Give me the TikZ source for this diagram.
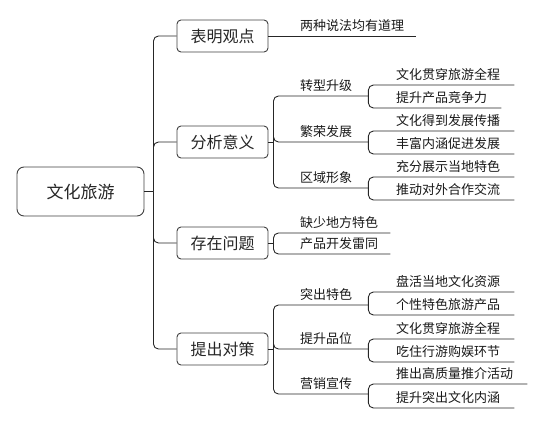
\documentclass[tikz,border=0pt]{standalone}
\usepackage{fontspec}
\setmainfont{Noto Sans CJK SC}
\usetikzlibrary{positioning}

\begin{document}
\begin{tikzpicture}[
  x=1pt, y=-1pt,
  conn/.style={draw=black!85, line width=0.9pt, rounded corners=5pt},
  rootbox/.style={draw=black!75, line width=0.9pt, rounded corners=7pt, fill=white,
                  text=black!85, minimum width=127pt, minimum height=49pt,
                  font=\fontsize{17pt}{20pt}\selectfont},
  topic/.style={draw=black!75, line width=0.9pt, rounded corners=4pt, fill=white,
                text=black!85, minimum width=91pt, minimum height=32pt,
                font=\fontsize{16pt}{19pt}\selectfont},
  mid/.style={anchor=south west, inner xsep=16pt, inner ysep=4pt, text=black!90,
              font=\fontsize{13pt}{15pt}\selectfont},
  leaftwo/.style={mid, inner xsep=12pt},
  leaf/.style={mid, inner xsep=14pt}
]
\useasboundingbox (0,0) rectangle (540,423);

% ---------------- root and topics ----------------
\node[rootbox] (root) at (80.5,191.5) {文化旅游};
\node[topic] (t1) at (222.5,36) {表明观点};
\node[topic] (t2) at (222.5,142) {分析意义};
\node[topic] (t3) at (222.5,243) {存在问题};
\node[topic] (t4) at (222.5,349) {提出对策};

% ---------------- second column ----------------
\node[leaftwo] (c0) at (288,36) {两种说法均有道理};
\node[mid] (z1) at (284,96) {转型升级};
\node[mid] (z2) at (284,142) {繁荣发展};
\node[mid] (z3) at (284,188) {区域形象};
\node[leaftwo] (q1) at (288,233) {缺少地方特色};
\node[leaftwo] (q2) at (288,254) {产品开发雷同};
\node[mid] (d1) at (284,305) {突出特色};
\node[mid] (d2) at (284,349) {提升品位};
\node[mid] (d3) at (284,394) {营销宣传};

% ---------------- third column ----------------
\node[leaf] (a1) at (382,85) {文化贯穿旅游全程};
\node[leaf] (a2) at (382,108) {提升产品竞争力};
\node[leaf] (a3) at (382,131) {文化得到发展传播};
\node[leaf] (a4) at (382,154) {丰富内涵促进发展};
\node[leaf] (a5) at (382,177) {充分展示当地特色};
\node[leaf] (a6) at (382,200) {推动对外合作交流};
\node[leaf] (e1) at (382,292) {盘活当地文化资源};
\node[leaf] (e2) at (382,315) {个性特色旅游产品};
\node[leaf] (e3) at (382,339) {文化贯穿旅游全程};
\node[leaf] (e4) at (382,362) {吃住行游购娱环节};
\node[leaf] (e5) at (382,384) {推出高质量推介活动};
\node[leaf] (e6) at (382,408) {提升突出文化内涵};

% ---------------- connectors ----------------
\coordinate (rootr) at ([xshift=9pt]root.east);
\draw[conn] (root.east) -- (rootr);
\foreach \t in {t1,t2,t3,t4}
  \draw[conn] (rootr) |- (\t.west);

\draw[conn] (t1.east) -- (c0.south east);

\coordinate (t2r) at ([xshift=5pt]t2.east);
\draw[conn] (t2.east) -- (t2r);
\foreach \z in {z1,z2,z3}
  \draw[conn] (t2r) |- (\z.south east);

\coordinate (t3r) at ([xshift=5pt]t3.east);
\draw[conn] (t3.east) -- (t3r);
\foreach \z in {q1,q2}
  \draw[conn] (t3r) |- (\z.south east);

\coordinate (t4r) at ([xshift=5pt]t4.east);
\draw[conn] (t4.east) -- (t4r);
\foreach \z in {d1,d2,d3}
  \draw[conn] (t4r) |- (\z.south east);

\foreach \z/\a/\b in {z1/a1/a2, z2/a3/a4, z3/a5/a6, d1/e1/e2, d2/e3/e4, d3/e5/e6} {
  \draw[conn] (\z.south east) |- (\a.south east);
  \draw[conn] (\z.south east) |- (\b.south east);
}

\end{tikzpicture}
\end{document}
